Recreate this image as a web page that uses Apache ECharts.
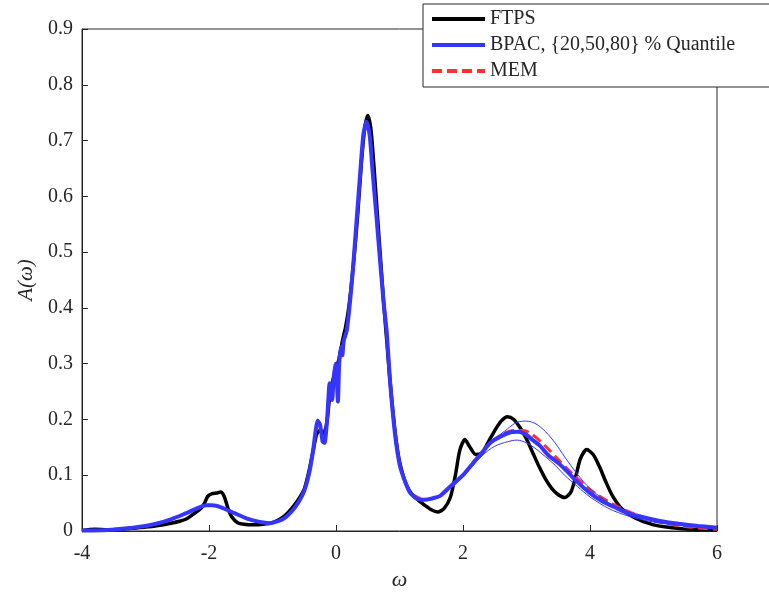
<!DOCTYPE html>
<html>
<head>
<meta charset="utf-8">
<script src="https://cdn.jsdelivr.net/npm/echarts@6/dist/echarts.min.js"></script>
<style>html,body{margin:0;padding:0;background:#fff;}#c{width:769px;height:592px;}</style>
</head>
<body>
<div id="c"></div>
<script>
// ---- data ----
const xTicks = [-4, -2, 0, 2, 4, 6];
const yTicks = [0, 0.1, 0.2, 0.3, 0.4, 0.5, 0.6, 0.7, 0.8, 0.9];

const ftpsX = [-4.0,-3.8,-3.6,-3.4,-3.2,-3.0,-2.8,-2.6,-2.45,-2.35,-2.25,-2.15,-2.08,-2.02,-1.95,-1.88,-1.82,-1.76,-1.7,-1.64,-1.55,-1.45,-1.3,-1.15,-1.0,-0.9,-0.8,-0.7,-0.6,-0.5,-0.42,-0.35,-0.3,-0.25,-0.2,-0.15,-0.1,-0.05,0.0,0.05,0.1,0.15,0.2,0.25,0.3,0.35,0.4,0.45,0.5,0.55,0.6,0.65,0.7,0.75,0.8,0.85,0.9,0.95,1.0,1.1,1.2,1.3,1.4,1.5,1.6,1.7,1.8,1.88,1.95,2.03,2.1,2.2,2.3,2.4,2.5,2.6,2.7,2.8,2.9,3.0,3.1,3.2,3.3,3.4,3.5,3.6,3.7,3.78,3.85,3.95,4.05,4.15,4.25,4.35,4.5,4.7,5.0,5.3,5.6,6.0];
const ftpsY = [0.001,0.003,0.002,0.003,0.005,0.007,0.010,0.014,0.018,0.022,0.030,0.038,0.048,0.062,0.067,0.068,0.070,0.062,0.040,0.025,0.015,0.012,0.011,0.012,0.015,0.020,0.028,0.040,0.055,0.075,0.110,0.150,0.175,0.180,0.175,0.190,0.240,0.270,0.290,0.310,0.340,0.365,0.400,0.450,0.510,0.580,0.660,0.720,0.745,0.720,0.650,0.570,0.490,0.410,0.340,0.270,0.210,0.160,0.125,0.085,0.065,0.055,0.046,0.038,0.034,0.040,0.060,0.100,0.145,0.164,0.152,0.137,0.140,0.160,0.180,0.197,0.205,0.200,0.185,0.165,0.140,0.115,0.093,0.076,0.065,0.060,0.070,0.100,0.130,0.146,0.137,0.115,0.088,0.064,0.040,0.024,0.011,0.006,0.003,0.002];

const bpacX = [-4.0,-3.6,-3.2,-3.0,-2.8,-2.6,-2.4,-2.2,-2.05,-1.95,-1.8,-1.6,-1.4,-1.2,-1.05,-0.9,-0.8,-0.7,-0.6,-0.5,-0.42,-0.36,-0.32,-0.29,-0.25,-0.21,-0.18,-0.14,-0.1,-0.08,-0.06,-0.04,-0.01,0.01,0.03,0.05,0.08,0.1,0.12,0.17,0.22,0.27,0.32,0.38,0.43,0.48,0.53,0.58,0.64,0.69,0.75,0.8,0.85,0.9,0.95,1.01,1.1,1.17,1.29,1.4,1.5,1.64,1.8,2.0,2.16,2.3,2.43,2.6,2.75,2.88,3.0,3.1,3.21,3.35,3.5,3.63,3.8,4.0,4.2,4.42,4.6,4.79,5.1,5.4,5.7,6.0];
const bpacY = [0.001,0.002,0.006,0.009,0.014,0.021,0.030,0.040,0.046,0.046,0.042,0.032,0.022,0.016,0.014,0.018,0.024,0.035,0.050,0.072,0.105,0.145,0.180,0.198,0.190,0.160,0.158,0.200,0.265,0.250,0.235,0.270,0.300,0.280,0.232,0.300,0.330,0.315,0.340,0.360,0.410,0.474,0.550,0.640,0.710,0.734,0.710,0.640,0.560,0.490,0.410,0.355,0.270,0.205,0.155,0.115,0.085,0.068,0.057,0.056,0.058,0.063,0.080,0.100,0.122,0.140,0.158,0.170,0.177,0.178,0.172,0.163,0.153,0.135,0.122,0.108,0.088,0.068,0.053,0.041,0.032,0.026,0.018,0.013,0.009,0.006];

const qX = [1.3,1.6,2.0,2.3,2.5,2.7,2.85,3.0,3.15,3.3,3.45,3.6,3.8,4.0,4.3,4.6,5.0,5.5,6.0];
const q80Y = [0.056,0.062,0.100,0.142,0.165,0.183,0.195,0.197,0.192,0.178,0.158,0.133,0.102,0.076,0.050,0.033,0.020,0.012,0.007];
const q20Y = [0.056,0.061,0.098,0.135,0.152,0.160,0.163,0.158,0.147,0.133,0.118,0.100,0.080,0.061,0.040,0.027,0.016,0.009,0.005];

const memX = [1.2,1.4,1.6,1.8,2.0,2.2,2.4,2.6,2.8,2.95,3.1,3.3,3.5,3.7,3.9,4.1,4.3,4.5,4.8,5.1,5.5,6.0];
const memY = [0.066,0.056,0.061,0.078,0.100,0.128,0.155,0.172,0.180,0.180,0.172,0.152,0.128,0.105,0.084,0.066,0.052,0.040,0.026,0.016,0.008,0.003];

const names = ['FTPS', 'BPAC, {20,50,80} % Quantile', 'MEM'];

// ---- chart ----
const pairs = (xs, ys) => xs.map((x, i) => [x, ys[i]]);
const FONT = '"Liberation Serif", "DejaVu Serif", serif';
const TXT = '#262626';
const BLUE = '#3535ff';

const chart = echarts.init(document.getElementById('c'), null, {renderer: 'canvas'});
chart.setOption({
  animation: false,
  backgroundColor: '#ffffff',
  grid: {left: 82, right: 52, top: 29, bottom: 61, show: true, borderColor: TXT, borderWidth: 1,
    backgroundColor: 'transparent', containLabel: false, outerBoundsMode: 'none'},
  xAxis: {
    type: 'value', min: xTicks[0], max: xTicks[xTicks.length - 1], interval: 2,
    axisLine: {show: true, onZero: false, lineStyle: {color: TXT, width: 1}},
    axisTick: {show: true, inside: true, length: 6, lineStyle: {color: TXT}},
    splitLine: {show: false},
    axisLabel: {color: TXT, fontFamily: FONT, fontSize: 20, margin: 13},
    name: 'ω', nameLocation: 'middle', nameGap: 36,
    nameTextStyle: {color: TXT, fontFamily: FONT, fontSize: 22, fontStyle: 'italic'}
  },
  yAxis: {
    type: 'value', min: yTicks[0], max: yTicks[yTicks.length - 1], interval: 0.1,
    axisLine: {show: true, onZero: false, lineStyle: {color: TXT, width: 1}},
    axisTick: {show: true, inside: true, length: 6, lineStyle: {color: TXT}},
    splitLine: {show: false},
    axisLabel: {color: TXT, fontFamily: FONT, fontSize: 20, margin: 9,
      formatter: v => (Math.round(v * 10) / 10).toString()},
    name: 'A(ω)', nameLocation: 'middle', nameGap: 40, nameRotate: 90,
    nameTextStyle: {color: TXT, fontFamily: FONT, fontSize: 21, fontStyle: 'italic'}
  },
  legend: {
    show: true, data: names, orient: 'vertical', left: 423, top: 4,
    padding: [5, 40, 6, 7], itemGap: 6, itemWidth: 53, itemHeight: 20,
    backgroundColor: '#ffffff', borderColor: TXT, borderWidth: 1, borderRadius: 0,
    itemStyle: {opacity: 0},
    lineStyle: {width: 4},
    textStyle: {color: TXT, fontFamily: FONT, fontSize: 20}
  },
  series: [
    {name: names[0], type: 'line', data: pairs(ftpsX, ftpsY), symbol: 'none', smooth: 0.25, z: 2,
      lineStyle: {color: '#000000', width: 3.5}, itemStyle: {color: '#000000'}},
    {name: names[2], type: 'line', data: pairs(memX, memY), symbol: 'none', smooth: 0.3, z: 3,
      lineStyle: {color: '#ff3030', width: 3, type: [10, 5]}, itemStyle: {color: '#ff3030'}},
    {name: 'q80', type: 'line', data: pairs(qX, q80Y), symbol: 'none', smooth: 0.3, z: 4,
      lineStyle: {color: BLUE, width: 1}, itemStyle: {color: BLUE}},
    {name: 'q20', type: 'line', data: pairs(qX, q20Y), symbol: 'none', smooth: 0.3, z: 4,
      lineStyle: {color: BLUE, width: 1}, itemStyle: {color: BLUE}},
    {name: names[1], type: 'line', data: pairs(bpacX, bpacY), symbol: 'none', smooth: 0.2, z: 5,
      lineStyle: {color: BLUE, width: 4}, itemStyle: {color: BLUE}}
  ]
});
</script>
</body>
</html>
